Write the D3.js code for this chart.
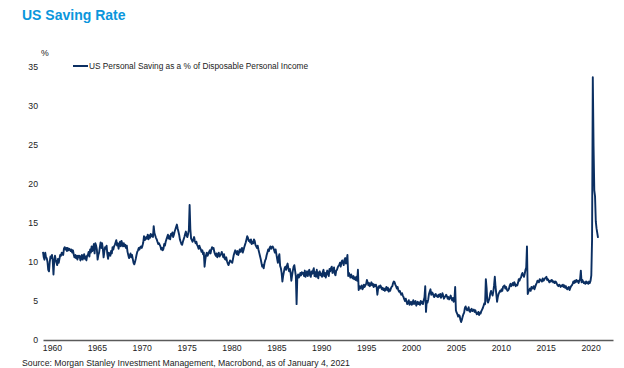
<!DOCTYPE html>
<html>
<head>
<meta charset="utf-8">
<script src="https://cdn.jsdelivr.net/npm/d3@7"></script>
<style>
  html, body { margin: 0; padding: 0; background: #ffffff; }
  svg { display: block; font-family: "Liberation Sans", Arial, sans-serif; }
</style>
</head>
<body>
<svg id="chart" width="624" height="368"></svg>
<script>
const titleText = "US Saving Rate";
const unitLabel = "%";
const seriesName = "US Personal Saving as a % of Disposable Personal Income";
const sourceText = "Source: Morgan Stanley Investment Management, Macrobond, as of January 4, 2021";
const startYear = 1959;
const yTicks = [0, 5, 10, 15, 20, 25, 30, 35];
const xTicks = [1960, 1965, 1970, 1975, 1980, 1985, 1990, 1995, 2000, 2005, 2010, 2015, 2020];

// Monthly personal saving rate (%), Jan 1959 – Nov 2020, one row per year
const savingRate = [
  [11.3,10.6,10.3,11.2,10.6,10.5,10.0,9.0,8.8,10.0,10.7,10.5],
  [10.9,10.2,8.4,10.1,10.8,10.3,9.9,9.6,10.4,9.9,10.4,10.9],
  [10.8,11.2,11.1,10.9,11.7,11.9,11.6,11.8,11.4,11.8,11.5,11.7],
  [11.6,11.4,11.6,11.2,11.5,11.0,10.6,10.9,10.5,10.8,10.3,10.8],
  [10.6,10.8,10.2,10.5,10.9,10.3,10.6,11.0,10.4,10.7,10.2,10.8],
  [10.9,11.3,10.7,11.6,11.2,12.0,11.4,11.8,12.3,11.1,12.4,12.1],
  [11.6,10.3,10.9,11.2,11.9,12.5,11.8,12.4,11.7,10.6,11.3,11.9],
  [11.7,12.1,11.0,10.4,11.2,11.0,10.8,11.4,11.1,11.9,11.6,12.0],
  [12.2,12.5,12.8,12.1,12.4,11.7,12.3,12.6,12.0,12.7,12.3,12.0],
  [12.4,12.0,12.2,11.8,12.1,11.3,10.9,10.5,10.8,11.1,10.6,10.9],
  [10.4,9.9,9.7,10.0,10.4,10.9,11.3,11.5,11.8,11.6,11.9,12.0],
  [11.8,12.1,12.5,13.3,12.8,12.9,13.2,13.0,13.5,12.9,13.4,13.1],
  [13.6,13.3,13.5,13.2,14.6,13.7,13.4,13.1,12.9,12.6,12.3,12.4],
  [12.2,12.0,11.6,11.8,11.5,11.7,12.3,12.1,12.6,12.9,13.2,13.5],
  [13.0,13.3,12.9,13.6,13.4,13.8,13.2,13.5,13.9,14.2,14.5,14.8],
  [14.3,13.9,13.5,12.9,12.6,12.3,12.2,12.6,12.9,13.2,13.6,13.9],
  [13.4,13.2,13.6,14.1,17.3,14.2,13.0,12.8,12.6,12.9,13.2,12.7],
  [12.4,12.6,12.2,12.0,11.7,12.1,11.8,11.6,11.3,11.5,11.0,11.2],
  [9.4,10.3,10.9,11.2,10.8,11.0,11.3,11.5,11.1,11.6,11.9,11.7],
  [11.8,11.3,11.0,10.8,11.1,10.6,10.9,11.2,10.7,10.9,11.0,11.3],
  [10.9,10.6,11.0,10.4,10.3,10.6,10.1,9.8,9.6,9.9,10.2,10.1],
  [10.0,9.9,10.4,10.9,11.2,11.5,11.3,11.0,11.4,10.9,11.2,11.6],
  [11.3,11.6,11.8,11.2,11.5,11.9,12.2,12.5,12.9,13.3,13.1,12.7],
  [12.8,12.5,12.9,12.3,12.6,12.4,12.9,12.7,12.2,12.0,11.8,12.1],
  [11.6,11.2,10.8,10.4,9.9,9.4,9.6,9.2,9.8,10.2,10.4,10.9],
  [11.2,11.6,11.4,11.8,12.0,11.7,11.9,12.0,11.8,11.5,11.2,11.6],
  [11.0,10.4,9.9,10.6,11.0,9.5,9.2,8.6,7.5,8.2,8.7,9.2],
  [9.4,9.0,9.5,9.8,9.2,8.8,9.1,8.6,7.6,8.3,8.9,9.4],
  [9.6,8.9,8.2,4.6,8.1,8.4,8.0,8.2,8.6,8.3,8.7,8.5],
  [8.6,8.2,8.9,8.1,8.6,8.8,8.2,8.7,9.0,8.3,8.1,8.8],
  [8.5,8.9,9.2,8.2,8.7,8.1,9.0,8.3,7.9,8.7,8.8,8.3],
  [8.5,8.1,8.7,9.0,8.2,8.6,8.0,8.5,8.9,8.5,8.2,9.1],
  [8.8,9.2,9.4,8.6,9.0,9.3,8.5,8.3,8.9,9.0,9.3,9.5],
  [9.6,9.9,9.4,10.0,10.2,9.9,9.6,10.3,10.5,9.8,10.2,10.9],
  [8.2,8.6,8.3,8.0,8.4,8.1,7.9,8.2,7.8,8.0,7.7,8.1],
  [7.6,9.0,6.4,6.9,6.6,6.8,7.0,6.5,6.7,7.1,6.8,7.0],
  [7.2,7.7,7.4,7.0,7.3,6.9,7.1,7.4,7.0,7.2,6.8,7.1],
  [6.9,7.1,6.8,5.8,6.6,6.9,6.7,7.0,6.8,6.5,6.7,6.4],
  [6.6,6.3,6.5,6.8,6.4,6.7,6.2,6.5,6.3,6.6,6.8,6.9],
  [7.3,7.5,7.4,7.1,6.9,6.6,6.8,6.4,6.2,6.3,6.0,5.8],
  [6.0,5.7,5.5,5.2,5.0,5.3,4.9,4.6,4.8,5.1,4.5,4.7],
  [4.9,4.5,4.7,5.1,4.6,4.8,5.0,4.4,4.7,4.9,4.6,4.8],
  [4.5,5.0,4.7,4.9,4.6,5.1,5.5,6.9,3.6,5.0,4.8,5.2],
  [5.9,6.2,6.5,5.8,6.1,6.0,5.7,5.5,5.8,5.9,5.6,5.7],
  [5.5,5.8,5.6,5.9,5.4,5.6,6.0,5.7,5.3,5.5,5.6,5.8],
  [5.6,5.3,5.5,5.2,5.4,5.7,5.3,5.1,5.4,4.9,5.2,6.8],
  [3.8,3.5,3.3,3.0,3.2,3.1,2.6,2.3,2.6,3.0,3.3,3.5],
  [4.1,4.3,4.0,3.8,3.9,4.2,3.7,3.6,3.9,4.0,3.7,3.8],
  [3.9,3.6,3.8,3.5,3.3,3.4,3.6,3.2,3.5,3.4,3.7,3.9],
  [4.1,4.4,4.7,4.6,7.8,6.7,5.0,4.8,5.1,5.4,6.0,6.3],
  [6.0,5.7,6.2,7.0,8.1,6.8,5.9,4.9,5.5,5.9,6.1,6.3],
  [6.2,6.5,6.3,6.8,6.9,7.0,6.6,6.8,6.5,6.3,6.4,6.6],
  [7.0,7.2,6.9,7.1,7.3,7.0,7.4,7.2,6.9,7.1,7.0,7.3],
  [7.8,7.6,7.9,8.0,8.4,8.6,8.3,8.1,8.5,9.0,9.3,12.0],
  [5.9,6.2,6.4,6.6,6.3,6.8,6.6,6.7,6.9,6.5,6.8,7.1],
  [7.3,7.6,7.5,7.4,7.8,7.7,7.6,7.5,7.9,7.6,7.7,7.9],
  [8.0,8.1,7.7,7.8,7.6,7.4,7.6,7.5,7.7,7.6,7.4,7.5],
  [7.3,7.5,7.4,7.2,7.0,6.9,7.1,7.0,6.8,7.0,6.9,7.1],
  [6.8,7.0,6.7,6.9,6.6,6.5,6.7,6.8,6.4,6.7,6.9,7.0],
  [7.2,7.5,7.3,7.6,7.4,7.7,7.5,7.6,7.3,7.6,7.8,8.9],
  [7.4,7.7,7.5,7.3,7.4,7.2,7.5,7.3,7.4,7.2,7.5,7.3],
  [7.6,8.3,12.8,33.7,24.9,19.2,18.4,15.2,14.3,13.7,13.1]
];

const data = [];
savingRate.forEach((row, i) => {
  row.forEach((v, m) => data.push({ t: startYear + i + m / 12, v: v }));
});

const svg = d3.select("#chart");
const plot = { left: 43, right: 613, top: 67, bottom: 340 };

const x = d3.scaleLinear().domain([1959, 2022.5]).range([plot.left, plot.right]);
const y = d3.scaleLinear().domain([0, 35]).range([plot.bottom, plot.top]);

// Title
svg.append("text")
  .attr("x", 22).attr("y", 20)
  .attr("fill", "#0a96dc")
  .attr("font-weight", "bold")
  .attr("font-size", "14px")
  .text(titleText);

// Y axis (labels only)
const yAxis = d3.axisLeft(y).tickValues(yTicks).tickSize(0).tickPadding(0).tickFormat(d3.format("d"));
const gy = svg.append("g").attr("transform", `translate(38,0)`).call(yAxis);
gy.select(".domain").remove();
gy.selectAll("text").attr("font-size", "8.7px").attr("fill", "#222").attr("font-family", "Liberation Sans, Arial, sans-serif");

// unit label
svg.append("text").attr("x", 41).attr("y", 56)
  .attr("font-size", "8.7px").attr("fill", "#222").text(unitLabel);

// X axis
const xAxis = d3.axisBottom(x).tickValues(xTicks).tickSize(0).tickPadding(5).tickFormat(d3.format("d"));
const gx = svg.append("g").attr("transform", `translate(0,${plot.bottom})`).call(xAxis);
gx.select(".domain").attr("stroke", "#5a5a5a").attr("stroke-width", 1.3);
gx.selectAll("text").attr("font-size", "8.7px").attr("fill", "#222").attr("font-family", "Liberation Sans, Arial, sans-serif");

// Line
const line = d3.line().x(d => x(d.t)).y(d => y(d.v));
svg.append("path")
  .datum(data)
  .attr("fill", "none")
  .attr("stroke", "#0b2f62")
  .attr("stroke-width", 1.9)
  .attr("stroke-linejoin", "round")
  .attr("d", line);

// Legend
svg.append("line").attr("x1", 73).attr("x2", 88).attr("y1", 66).attr("y2", 66)
  .attr("stroke", "#0b2f62").attr("stroke-width", 2);
svg.append("text").attr("x", 89).attr("y", 69)
  .attr("font-size", "8.3px").attr("fill", "#222").text(seriesName);

// Source
svg.append("text").attr("x", 22).attr("y", 366)
  .attr("font-size", "8.7px").attr("fill", "#222").text(sourceText);
</script>
</body>
</html>
